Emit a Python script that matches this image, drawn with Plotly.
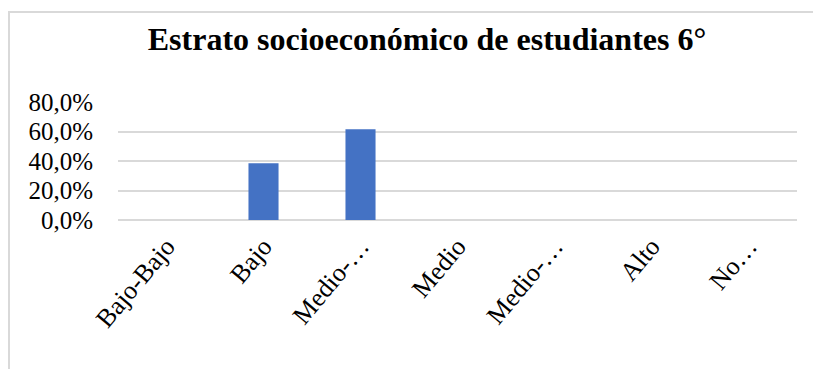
import plotly.graph_objects as go

categories = ["Bajo-Bajo", "Bajo", "Medio-Bajo", "Medio", "Medio-Alto", "Alto", "No sabe"]
tick_labels = ["Bajo-Bajo", "Bajo", "Medio-…", "Medio", "Medio-…", "Alto", "No…"]
values = [0.0, 0.385, 0.615, 0.0, 0.0, 0.0, 0.0]
y_ticks = [0.0, 0.2, 0.4, 0.6, 0.8]

W, H = 813, 369
L, R, T, B = 118, 16, 102, 149
pw = W - L - R
ph = H - T - B

def px_to_paper_x(px):
    return (px - L) / pw

def px_to_paper_y(py):
    return (H - B - py) / ph

fig = go.Figure()
fig.add_trace(go.Bar(
    x=categories, y=values,
    marker=dict(color="#4472C4", line=dict(width=0)),
    hoverinfo="x+y",
))

font_family = "Times New Roman, Liberation Serif, serif"

fig.update_layout(
    width=W, height=H,
    margin=dict(l=L, r=R, t=T, b=B, pad=0),
    paper_bgcolor="white", plot_bgcolor="white",
    separators=",.",
    bargap=0.69,
    showlegend=False,
    font=dict(family=font_family, size=24, color="black"),
    title=dict(
        text="<b>Estrato socioeconómico de estudiantes 6°</b>",
        x=px_to_paper_x(427), xref="paper", xanchor="center",
        y=1 - 39 / H, yref="container", yanchor="middle",
        font=dict(family=font_family, size=32, color="black"),
    ),
    xaxis=dict(
        type="category",
        tickmode="array", tickvals=categories, ticktext=tick_labels,
        tickangle=-50,
        showgrid=False, showline=False, ticks="",
        ticklabelstandoff=5,
        tickfont=dict(family=font_family, size=26, color="black"),
    ),
    yaxis=dict(
        range=[0, 0.8],
        tickmode="array", tickvals=y_ticks,
        tickformat=".1%",
        showgrid=True, gridcolor="#d9d9d9", gridwidth=2,
        zeroline=True, zerolinecolor="#d9d9d9", zerolinewidth=2,
        showline=False, ticks="",
        ticklabelstandoff=24,
        tickfont=dict(family=font_family, size=25, color="black"),
    ),
    shapes=[
        dict(type="line", xref="paper", yref="paper",
             x0=px_to_paper_x(9), x1=px_to_paper_x(9),
             y0=px_to_paper_y(400), y1=px_to_paper_y(12),
             line=dict(color="#d9d9d9", width=2), layer="below"),
        dict(type="line", xref="paper", yref="paper",
             x0=px_to_paper_x(8), x1=px_to_paper_x(840),
             y0=px_to_paper_y(12), y1=px_to_paper_y(12),
             line=dict(color="#d9d9d9", width=2), layer="below"),
    ],
)

fig.write_html("out.html")
